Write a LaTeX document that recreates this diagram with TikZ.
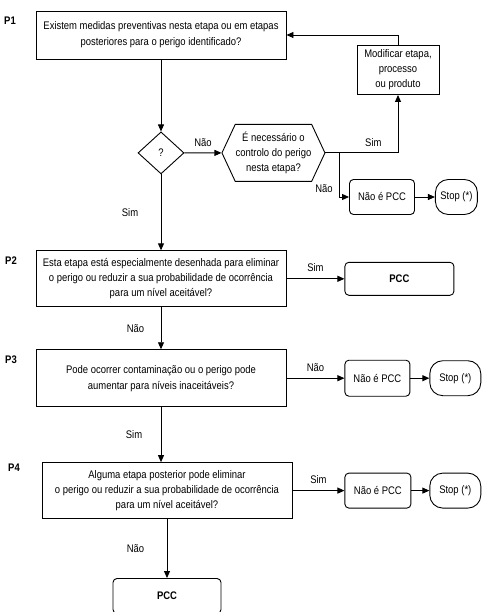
\documentclass[tikz,border=0pt]{standalone}
\usepackage{fontspec}
\setmainfont{Liberation Sans}[FakeStretch=0.86]
\usetikzlibrary{arrows.meta, calc, positioning, shapes.geometric, shapes.misc, shapes.symbols}

\begin{document}
\begin{tikzpicture}[
    x = 1pt, y = -1pt,
    node distance = 20pt and 20pt,
    pergunta/.style = {rectangle, draw, line width=0.9pt, minimum width=250pt, align=center, inner sep=2pt},
    caixa/.style = {rectangle, draw, line width=0.9pt, rounded corners=4pt, align=center, inner sep=2pt},
    stopbox/.style = {rectangle, draw, line width=0.9pt, rounded corners=13pt, minimum height=35pt, inner sep=1pt},
    rotulo/.style = {font=\fontsize{11}{13}\selectfont\bfseries},
    pil/.style = {black, line width=0.9pt, -{Triangle[length=7pt, width=6pt]}},
    lbl/.style = {font=\fontsize{11}{13}\selectfont},
    font=\fontsize{11}{16}\selectfont
    ]

  \useasboundingbox (0,0) rectangle (490,612);

  % P1
  \node[pergunta, minimum height=48pt] (p1) at (161,35)
    {Existem medidas preventivas nesta etapa ou em etapas\\posteriores para o perigo identificado?};
  \node[rotulo] (l1) at (10,21) {P1};
  \node[diamond, draw, line width=0.9pt, minimum width=46pt, minimum height=42pt, inner sep=0pt] (q) [below=72pt of p1] {?};
  \node[signal, signal to=west and east, signal pointer angle=130, draw, line width=0.9pt,
        minimum width=103pt, minimum height=57pt, align=center, inner sep=0pt,
        font=\fontsize{11}{15}\selectfont] (hex) [right=37pt of q]
    {É necessário o\\controlo do perigo\\nesta etapa?};
  \node[rectangle, draw, line width=0.9pt, minimum width=82pt, minimum height=49pt, align=center,
        inner sep=1pt, font=\fontsize{11}{15}\selectfont] (mod) at (398,70)
    {Modificar etapa,\\processo\\ou produto};
  \node[caixa, minimum width=65pt, minimum height=35pt] (nopcc1) at (382,197) {Não é PCC};
  \node[stopbox, minimum width=42pt] (stop1) [right=20pt of nopcc1] {Stop (*)};
  \coordinate (split) at ($(hex.east)+(14,0)$);

  % P2
  \node[pergunta, minimum height=56pt, font=\fontsize{11}{15}\selectfont] (p2) [below=76pt of q]
    {Esta etapa está especialmente desenhada para eliminar\\o perigo ou reduzir a sua probabilidade de ocorrência\\para um nível aceitável?};
  \node[rotulo] (l2) at (11,261) {P2};
  \node[caixa, minimum width=109pt, minimum height=33pt, font=\fontsize{11}{14}\selectfont\bfseries] (pcc2) [right=58pt of p2] {PCC};

  % P3
  \node[pergunta, minimum height=57pt] (p3) [below=42pt of p2]
    {Pode ocorrer contaminação ou o perigo pode\\aumentar para níveis inaceitáveis?};
  \node[rotulo] (l3) at (11,360) {P3};
  \node[caixa, minimum width=65pt, minimum height=36pt] (nopcc3) [right=58pt of p3] {Não é PCC};
  \node[stopbox, minimum width=51pt] (stop3) [right=19pt of nopcc3] {Stop (*)};

  % P4
  \node[pergunta, minimum height=56pt, font=\fontsize{11}{15}\selectfont] (p4) [below=55pt of p3, xshift=6pt]
    {Alguma etapa posterior pode eliminar\\o perigo ou reduzir a sua probabilidade de ocorrência\\para um nível aceitável?};
  \node[rotulo] (l4) at (14,468) {P4};
  \node[caixa, minimum width=66pt, minimum height=35pt] (nopcc4) [right=52pt of p4] {Não é PCC};
  \node[stopbox, minimum width=51pt] (stop4) [right=18pt of nopcc4] {Stop (*)};
  \node[caixa, minimum width=108pt, minimum height=35pt, font=\fontsize{11}{14}\selectfont\bfseries] (pcc4) [below=59pt of p4] {PCC};

  \draw[pil]
  (p1) -- (q);
  \draw[pil] (q) -- node[lbl, above=3pt] {Não} (hex);
  \draw[pil] (hex.east) -| node[lbl, above=3pt, pos=0.33] {Sim} (mod.south);
  \draw[pil] (mod.north) |- (p1.east);
  \draw[pil] (split) |- node[lbl, left=3pt, pos=0.4] {Não} (nopcc1);
  \draw[pil] (nopcc1) -- (stop1);

  \draw[pil] (q) -- node[lbl, left=19pt] {Sim} (p2);
  \draw[pil] (p2) -- node[lbl, above=3pt] {Sim} (pcc2);
  \draw[pil] (p2) -- node[lbl, left=13pt] {Não} (p3);

  \draw[pil] (p3) -- node[lbl, above=3pt] {Não} (nopcc3);
  \draw[pil] (nopcc3) -- (stop3);
  \draw[pil] (p3.south) -- node[lbl, left=15pt] {Sim} (p3.south |- p4.north);

  \draw[pil] (p4) -- node[lbl, above=3pt] {Sim} (nopcc4);
  \draw[pil] (nopcc4) -- (stop4);
  \draw[pil] (p4) -- node[lbl, left=19pt] {Não} (pcc4);
\end{tikzpicture}
\end{document}
